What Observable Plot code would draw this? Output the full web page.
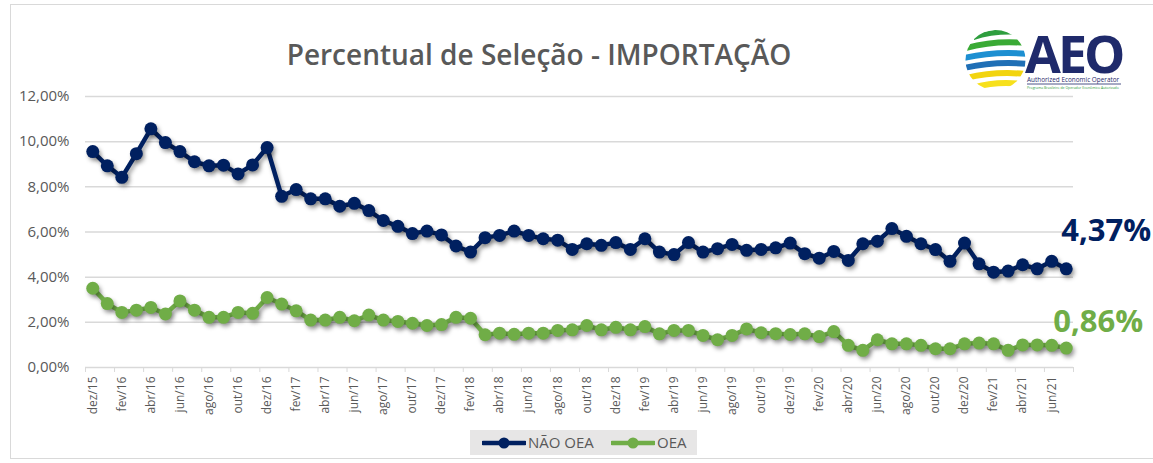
<!DOCTYPE html>
<html>
<head>
<meta charset="utf-8">
<script src="https://cdn.jsdelivr.net/npm/d3@7"></script>
<script src="https://cdn.jsdelivr.net/npm/@observablehq/plot@0.6"></script>
<style>
  html, body { margin: 0; padding: 0; background: #fff; }
  body { font-family: "Open Sans", "DejaVu Sans", sans-serif; }
  #wrap { position: relative; width: 1153px; height: 463px; overflow: hidden; }
  #frame { position: absolute; left: 10px; top: 4px; width: 1170px; height: 455px; border: 1px solid #d9d9d9; box-sizing: border-box; }
  #title { position: absolute; left: 0; top: 37px; width: 1078px; text-align: center; font-size: 28px; font-weight: 600; color: #595959; line-height: 34px; }
  #chart { position: absolute; left: 0; top: 80px; }
  #legend { position: absolute; left: 470px; top: 430px; width: 227px; height: 25px; background: #e7e6e6; font-size: 15px; color: #595959; }
  #legend .item { position: absolute; top: 0; height: 25px; line-height: 25px; display: flex; align-items: center; }
  #logo { position: absolute; left: 960px; top: 0px; }
</style>
</head>
<body>
<div id="wrap">
  <div id="frame"></div>
  <div id="title">Percentual de Seleção - IMPORTAÇÃO</div>
  <svg id="logo" width="170" height="105" viewBox="0 0 170 105">
    <defs><clipPath id="globe"><circle cx="35.5" cy="60" r="30"/></clipPath></defs>
    <g clip-path="url(#globe)">
      <path d="M14 35 Q35 27 62 30 L62 35 Q35 33 14 40 Z" fill="#2e9e3e"/>
      <path d="M6 45 Q35 37 66 40 L66 46 Q35 43 6 51 Z" fill="#3aaa35"/>
      <path d="M4 55 Q35 48 68 51 L68 57 Q35 54 4 61 Z" fill="#1d8fd1"/>
      <path d="M4 65 Q35 58 68 61 L68 67 Q35 64 4 71 Z" fill="#1f6fb6"/>
      <path d="M6 75 Q35 68 66 71 L66 77 Q35 74 6 81 Z" fill="#f2d40f"/>
      <path d="M12 85 Q35 78 62 81 L62 87 Q35 84 12 91 Z" fill="#f7e01c"/>
    </g>
    <text font-family="Open Sans" fill="#1f2a6b"><tspan x="65" y="73" font-weight="700" font-size="52" letter-spacing="-3">AEO</tspan><tspan x="67" y="82" font-size="6.4">Authorized Economic Operator</tspan><tspan x="67" y="89" font-size="3.5" fill="#2e9e3e">Programa Brasileiro de Operador Econômico Autorizado</tspan></text>
    <line x1="67" x2="161" y1="84" y2="84" stroke="#1f2a6b" stroke-width="0.8"/>
  </svg>
  <div id="chart"></div>
  <div id="legend">
    <div class="item" style="left:12px">
      <svg width="44" height="12"><line x1="1" x2="43" y1="6" y2="6" stroke="#002060" stroke-width="4.5" stroke-linecap="round"/><circle cx="22" cy="6" r="5.5" fill="#002060"/></svg>
      <span id="lab1" style="margin-left:2px"></span>
    </div>
    <div class="item" style="left:141px">
      <svg width="44" height="12"><line x1="1" x2="43" y1="6" y2="6" stroke="#70ad47" stroke-width="4.5" stroke-linecap="round"/><circle cx="22" cy="6" r="5.5" fill="#70ad47"/></svg>
      <span id="lab2" style="margin-left:2px"></span>
    </div>
  </div>
</div>
<script>
// Categories (months)
const months = [
  "dez/15",
  "jan/16","fev/16","mar/16","abr/16","mai/16","jun/16","jul/16","ago/16","set/16","out/16","nov/16","dez/16",
  "jan/17","fev/17","mar/17","abr/17","mai/17","jun/17","jul/17","ago/17","set/17","out/17","nov/17","dez/17",
  "jan/18","fev/18","mar/18","abr/18","mai/18","jun/18","jul/18","ago/18","set/18","out/18","nov/18","dez/18",
  "jan/19","fev/19","mar/19","abr/19","mai/19","jun/19","jul/19","ago/19","set/19","out/19","nov/19","dez/19",
  "jan/20","fev/20","mar/20","abr/20","mai/20","jun/20","jul/20","ago/20","set/20","out/20","nov/20","dez/20",
  "jan/21","fev/21","mar/21","abr/21","mai/21","jun/21","jul/21"
];

// Series names
const seriesNames = ["NÃO OEA", "OEA"];

// Series values (percent)
const naoOEA = [
  9.56,
  8.93, 8.42, 9.47, 10.57, 9.96, 9.56, 9.11, 8.93, 8.96, 8.57, 8.97, 9.74,
  7.58, 7.88, 7.47, 7.47, 7.14, 7.27, 6.95, 6.51, 6.25, 5.93, 6.04, 5.87,
  5.38, 5.11, 5.75, 5.85, 6.04, 5.85, 5.70, 5.64, 5.23, 5.48, 5.41, 5.53,
  5.23, 5.70, 5.11, 5.00, 5.53, 5.11, 5.26, 5.45, 5.19, 5.23, 5.30, 5.51,
  5.04, 4.84, 5.14, 4.74, 5.48, 5.59, 6.15, 5.81, 5.48, 5.22, 4.70, 5.51,
  4.59, 4.22, 4.27, 4.55, 4.37, 4.70, 4.37
];
const oea = [
  3.51,
  2.83, 2.44, 2.54, 2.66, 2.37, 2.95, 2.54, 2.22, 2.22, 2.44, 2.40, 3.10,
  2.81, 2.51, 2.10, 2.10, 2.22, 2.07, 2.32, 2.10, 2.04, 1.96, 1.86, 1.90,
  2.22, 2.18, 1.45, 1.52, 1.47, 1.52, 1.52, 1.64, 1.67, 1.86, 1.67, 1.78,
  1.67, 1.81, 1.49, 1.64, 1.64, 1.42, 1.23, 1.42, 1.71, 1.54, 1.50, 1.46,
  1.49, 1.37, 1.59, 0.98, 0.76, 1.23, 1.05, 1.05, 0.98, 0.83, 0.83, 1.05,
  1.08, 1.05, 0.76, 1.00, 1.00, 0.98, 0.86
];

// Y tick values
const yTicks = [0, 2, 4, 6, 8, 10, 12];

const colors = {"NÃO OEA": "#002060", "OEA": "#70ad47"};
const fmt = v => v.toFixed(2).replace(".", ",") + "%";

const rows = [];
months.forEach((m, i) => {
  rows.push({i, month: m, series: seriesNames[0], v: naoOEA[i]});
  rows.push({i, month: m, series: seriesNames[1], v: oea[i]});
});
const lastRows = rows.filter(d => d.i === months.length - 1);

const chart = Plot.plot({
  width: 1153,
  height: 345,
  marginTop: 16,
  marginBottom: 58,
  marginLeft: 85,
  marginRight: 80,
  style: {fontFamily: "Open Sans, sans-serif", background: "transparent", overflow: "visible"},
  x: {type: "linear", domain: [-0.5, months.length - 0.5], label: null},
  y: {domain: [0, 12], label: null},
  marks: [
    Plot.gridY(yTicks.filter(t => t > 0), {stroke: "#d9d9d9", strokeOpacity: 1, strokeWidth: 1.5}),
    Plot.ruleY([0], {stroke: "#d9d9d9", strokeWidth: 1.5}),
    Plot.axisY({ticks: yTicks, tickFormat: fmt, tickSize: 0, tickPadding: 16, fontSize: 15, fill: "#595959", label: null}),
    Plot.axisX({ticks: d3.range(-0.5, months.length, 2), tickFormat: () => "", tickSize: 5, stroke: "#d9d9d9", strokeOpacity: 1, label: null}),
    Plot.axisX({ticks: d3.range(0, months.length, 2), tickFormat: i => months[i], tickSize: 0, tickPadding: 9, tickRotate: -90, fontSize: 12, fill: "#595959", label: null}),
    Plot.line(rows, {x: "i", y: "v", z: "series", stroke: d => colors[d.series], strokeWidth: 4.5, curve: "linear"}),
    Plot.dot(rows, {x: "i", y: "v", fill: d => colors[d.series], r: 6.5, stroke: "none"}),
    Plot.text(lastRows.filter(d => d.series === "NÃO OEA"), {x: "i", y: "v", text: d => fmt(d.v), fill: colors["NÃO OEA"], fontSize: 31, fontWeight: "bold", textAnchor: "start", lineAnchor: "middle", dx: -5, dy: -38}),
    Plot.text(lastRows.filter(d => d.series === "OEA"), {x: "i", y: "v", text: d => fmt(d.v), fill: colors["OEA"], fontSize: 31, fontWeight: "bold", textAnchor: "start", lineAnchor: "middle", dx: -13, dy: -26})
  ]
});
document.getElementById("chart").appendChild(chart);

// Excel-like soft shadow under the series
d3.select(chart).selectAll('g[aria-label="line"], g[aria-label="dot"]')
  .style("filter", "drop-shadow(2px 3px 2px rgba(0,0,0,0.35))");

document.getElementById("lab1").textContent = seriesNames[0];
document.getElementById("lab2").textContent = seriesNames[1];
</script>
</body>
</html>
